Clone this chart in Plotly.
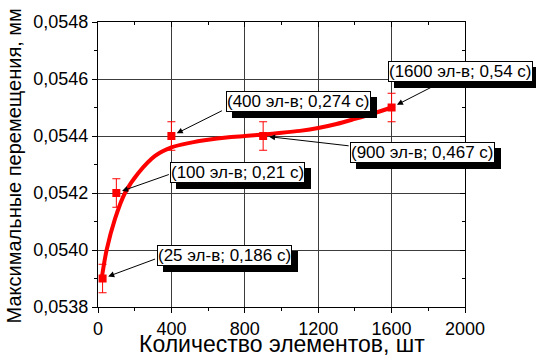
import plotly.graph_objects as go

# data points
elements = [25, 100, 400, 900, 1600]
displacement = [0.0539, 0.0542, 0.0544, 0.0544, 0.0545]
err = [0.00005, 0.00005, 0.00005, 0.00005, 0.00005]
labels = ["(25 эл-в; 0,186 с)", "(100 эл-в; 0,21 с)", "(400 эл-в; 0,274 с)",
          "(900 эл-в; 0,467 с)", "(1600 эл-в; 0,54 с)"]

# fitted curve
fit_x = [20, 47, 93, 147, 220, 311, 400, 500, 600, 700, 800, 900,
         1000, 1100, 1200, 1300, 1400, 1500, 1600]
fit_y = [0.05390, 0.05400, 0.05411, 0.05420, 0.05427, 0.05433, 0.054360,
         0.054376, 0.054387, 0.054395, 0.054400, 0.054405, 0.054411,
         0.054418, 0.054428, 0.054442, 0.054460, 0.054479, 0.054500]

x_ticks = [0, 400, 800, 1200, 1600, 2000]
x_ticktext = ["0", "400", "800", "1200", "1600", "2000"]
y_ticks = [0.0538, 0.0540, 0.0542, 0.0544, 0.0546, 0.0548]
y_ticktext = ["0,0538", "0,0540", "0,0542", "0,0544", "0,0546", "0,0548"]

FONT = "Liberation Sans, Arial, sans-serif"
RED = "#ff0000"

fig = go.Figure()
fig.add_trace(go.Scatter(x=fit_x, y=fit_y, mode="lines",
                         line=dict(color=RED, width=4, shape="spline", smoothing=0.8),
                         hoverinfo="skip", showlegend=False))
fig.add_trace(go.Scatter(x=elements, y=displacement, mode="markers",
                         marker=dict(symbol="square", size=8, color=RED),
                         error_y=dict(type="data", array=err, color=RED, thickness=1, width=4),
                         showlegend=False))
# invisible trace for mirror axes
fig.add_trace(go.Scatter(x=[0], y=[0.0538], xaxis="x2", yaxis="y2", mode="markers",
                         marker=dict(opacity=0), showlegend=False, hoverinfo="skip"))

axis_common = dict(showline=True, linecolor="black", linewidth=1, zeroline=False)

fig.update_layout(
    width=536, height=356,
    margin=dict(l=98, r=71, t=17, b=49),
    paper_bgcolor="white", plot_bgcolor="white",
    font=dict(family=FONT, color="black", size=18),
    xaxis=dict(range=[0, 2000], tickvals=x_ticks, ticktext=x_ticktext,
               ticks="outside", ticklen=5, tickcolor="black",
               minor=dict(ticks="outside", ticklen=3, dtick=200, tick0=0, tickcolor="black", showgrid=False),
               showgrid=True, gridcolor="#3c3c3c", gridwidth=1,
               tickfont=dict(size=18, color="black"), **axis_common),
    yaxis=dict(range=[0.0538, 0.0548], tickvals=y_ticks, ticktext=y_ticktext,
               ticks="outside", ticklen=5, tickcolor="black",
               minor=dict(ticks="outside", ticklen=3, dtick=0.0001, tick0=0.0538, tickcolor="black", showgrid=False),
               showgrid=True, gridcolor="#3c3c3c", gridwidth=1,
               tickfont=dict(size=18, color="black"), **axis_common),
    xaxis2=dict(overlaying="x", side="top", range=[0, 2000], tickvals=x_ticks,
                showticklabels=False, ticks="inside", ticklen=5, tickcolor="black",
                minor=dict(ticks="inside", ticklen=3, dtick=200, tick0=0, tickcolor="black"),
                showgrid=False, **axis_common),
    yaxis2=dict(overlaying="y", side="right", range=[0.0538, 0.0548], tickvals=y_ticks,
                showticklabels=False, ticks="inside", ticklen=5, tickcolor="black",
                minor=dict(ticks="inside", ticklen=3, dtick=0.0001, tick0=0.0538, tickcolor="black"),
                showgrid=False, **axis_common),
)

# axis titles
fig.add_annotation(text="Количество элементов, шт", xref="paper", yref="paper",
                   x=(282 - 98) / 367, y=(307 - 345) / 290, showarrow=False,
                   font=dict(size=23, family=FONT, color="black"),
                   xanchor="center", yanchor="middle")
fig.add_annotation(text="Максимальные перемещения, мм", xref="paper", yref="paper",
                   x=(14 - 98) / 367, y=(307 - 164) / 290, showarrow=False, textangle=-90,
                   font=dict(size=20, family=FONT, color="black"),
                   xanchor="center", yanchor="middle")

# label boxes (paper coords of centers)
box_pos = [(0.346, 0.179), (0.380, 0.471), (0.546, 0.722), (0.884, 0.543), (0.988, 0.826)]
for (bx, by), txt in zip(box_pos, labels):
    fig.add_annotation(text=txt, xref="paper", yref="paper", x=bx, y=by, showarrow=False,
                       xanchor="center", yanchor="middle",
                       font=dict(size=17, family=FONT, color="black"),
                       bgcolor="black", bordercolor="black", borderwidth=1, borderpad=0,
                       xshift=6, yshift=-6)
for (bx, by), txt in zip(box_pos, labels):
    fig.add_annotation(text=txt, xref="paper", yref="paper", x=bx, y=by, showarrow=False,
                       xanchor="center", yanchor="middle",
                       font=dict(size=17, family=FONT, color="black"),
                       bgcolor="white", bordercolor="black", borderwidth=1, borderpad=0)

# arrows from boxes to points (tail offsets in px)
arrow_tail = [(54, -20), (54, -19), (52, -26), (87, 10), (51, -26)]
for xv, yv, (ax, ay) in zip(elements, displacement, arrow_tail):
    fig.add_annotation(x=xv, y=yv, xref="x", yref="y", text="", showarrow=True,
                       ax=ax, ay=ay, arrowhead=2, arrowsize=1.2, arrowwidth=1,
                       arrowcolor="black", standoff=6)

fig.write_html("out.html", config={"displayModeBar": False},
               post_script="document.body.style.margin='0';")
